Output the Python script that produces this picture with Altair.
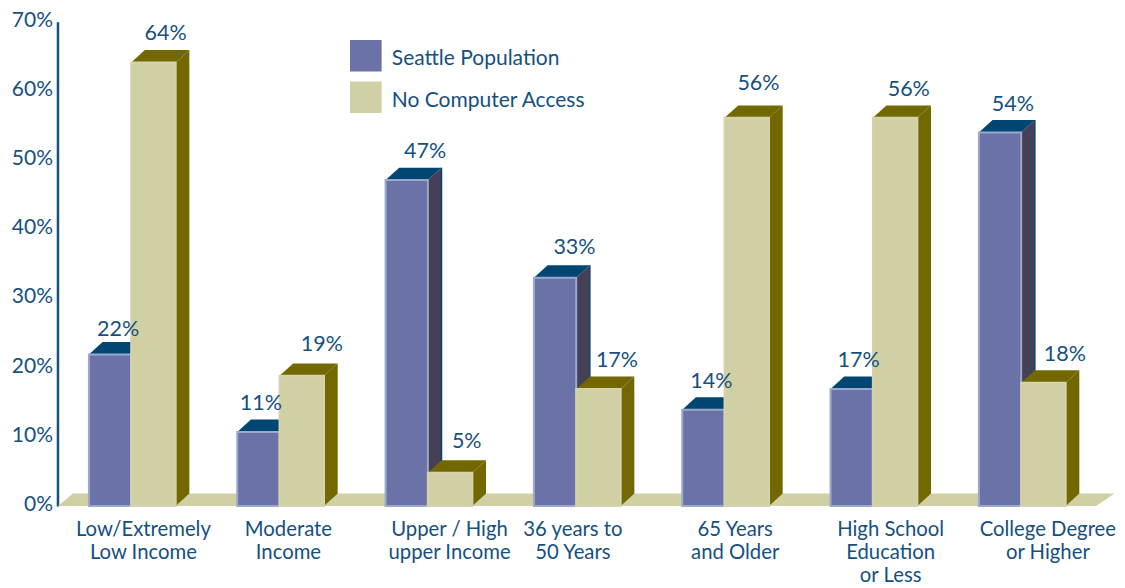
import altair as alt
import pandas as pd

# --- chart values -------------------------------------------------------
categories = ["Low/Extremely\nLow Income", "Moderate\nIncome", "Upper / High\nupper Income",
              "36 years to\n50 Years", "65 Years\nand Older",
              "High School\nEducation\nor Less", "College Degree\nor Higher"]
series_names = ["Seattle Population", "No Computer Access"]
seattle_labels = [22, 11, 47, 33, 14, 17, 54]
nocomp_labels = [64, 19, 5, 17, 56, 56, 18]
seattle_heights = [21.9, 10.7, 47.1, 33.0, 13.9, 16.9, 54.0]
nocomp_heights = [64.1, 18.8, 4.8, 16.9, 56.1, 56.1, 17.8]
y_ticks = [0, 10, 20, 30, 40, 50, 60, 70]

# --- styling / layout (group units on x, percent on y) -------------------
BLUE, BLUE_EDGE, BLUE_TOP, BLUE_SIDE = "#6a72a8", "#9aa9cc", "#004673", "#463f58"
TAN, TAN_EDGE, OLIVE = "#d1cfa4", "#d5d3ae", "#736800"
TEXT = "#15507f"
FONT = "Lato"
BLUE_W, TAN_W, DX, DY = 0.285, 0.30, 0.092, 1.8
seattle_label_nudge = [(0.054, 0.0), (0.017, 0.42), (0.124, 0.43), (0.131, 0.72), (0.054, 0.42), (0.047, 0.42), (0.087, 0.43)]
nocomp_label_nudge = [(0.002, -0.14), (0.055, 0.14), (0.032, 0.14), (0.045, -0.3), (-0.001, 0.6), (0.012, -0.29), (0.065, -0.3)]
category_x = [0.367, 0.345, 0.431, 0.263, 0.357, 0.405, 0.465]
floor_front = (-0.209, 6.79)
floor_back = (-0.108, 6.914)

x_scale = alt.Scale(domain=[-0.212, 6.931], nice=False, zero=False)
y_scale = alt.Scale(domain=[0, 70], nice=False, zero=False)
y_axis = alt.Axis(
    values=y_ticks, ticks=False, grid=False, labelExpr="datum.value + '%'",
    labelFont=FONT, labelFontSize=21, labelColor=TEXT, labelPadding=5, labelOffset=-1.5,
    domainColor=TEXT, domainWidth=2.5, title=None)
X = lambda f: alt.X(f, type="quantitative", scale=x_scale, axis=None)
Y = lambda f: alt.Y(f, type="quantitative", scale=y_scale, title=None, axis=y_axis)

bars = []
for i in range(len(categories)):
    bars.append(dict(g=i, series=series_names[0], l=i, r=i + BLUE_W, v=seattle_heights[i],
                     txt=f"{seattle_labels[i]}%", lx=i + BLUE_W / 2 + seattle_label_nudge[i][0],
                     ly=seattle_heights[i] + 3.6 + seattle_label_nudge[i][1]))
    bars.append(dict(g=i, series=series_names[1], l=i + BLUE_W, r=i + BLUE_W + TAN_W, v=nocomp_heights[i],
                     txt=f"{nocomp_labels[i]}%", lx=i + BLUE_W + TAN_W / 2 + 0.08 + nocomp_label_nudge[i][0],
                     ly=nocomp_heights[i] + 4.3 + nocomp_label_nudge[i][1]))
df = pd.DataFrame(bars)


def tops(series):
    rows = []
    for b in df[df.series == series].itertuples():
        rows.append(dict(g=b.g, y=b.v, a=b.l, c=b.r))
        rows.append(dict(g=b.g, y=b.v + DY, a=b.l + DX, c=b.r + DX))
    return pd.DataFrame(rows)


def sides(series):
    rows = []
    for b in df[df.series == series].itertuples():
        rows.append(dict(g=b.g, x=b.r, lo=0, hi=b.v))
        rows.append(dict(g=b.g, x=b.r + DX, lo=DY, hi=b.v + DY))
    return pd.DataFrame(rows)


def top_layer(series, color):
    return alt.Chart(tops(series)).mark_area(orient="horizontal", color=color).encode(
        y=Y("y"), x=X("a"), x2="c", detail="g:N")


def side_layer(series, color):
    return alt.Chart(sides(series)).mark_area(orient="vertical", color=color).encode(
        x=X("x"), y=Y("lo"), y2="hi", detail="g:N")


floor = alt.Chart(pd.DataFrame([
    dict(y=0, a=floor_front[0], c=floor_front[1]),
    dict(y=DY, a=floor_back[0], c=floor_back[1]),
])).mark_area(orient="horizontal", color=TAN).encode(y=Y("y"), x=X("a"), x2="c")

blue_df = df[df.series == series_names[0]]
blue_edge = alt.Chart(blue_df.assign(bx=blue_df.r + DX, lo=DY, hi=blue_df.v + DY)).mark_rule(
    color=BLUE_TOP, strokeWidth=1.5).encode(x=X("bx"), y=Y("lo"), y2="hi")

fronts = alt.Chart(df).mark_bar(strokeWidth=2).encode(
    x=X("l"), x2="r", y=Y("v"), y2=alt.Y2(datum=0),
    color=alt.Color("series:N", scale=alt.Scale(domain=series_names, range=[BLUE, TAN]),
                    legend=alt.Legend(
                        title=None, orient="none", legendX=292.5, legendY=21.5, padding=0,
                        symbolType="M-1,-1.22H1V0.78H-1Z", symbolSize=1000, symbolStrokeWidth=0,
                        labelFont=FONT, labelFontSize=21, labelColor=TEXT,
                        labelOffset=10, rowPadding=8.5, labelLimit=400)),
    stroke=alt.Stroke("series:N", scale=alt.Scale(domain=series_names, range=[BLUE_EDGE, TAN_EDGE]), legend=None),
    order=alt.Order("g:Q"))

value_text = alt.Chart(df).mark_text(font=FONT, fontSize=21.5, color=TEXT, align="center", baseline="middle").encode(
    x=X("lx"), y=Y("ly"), text="txt:N")

cat_df = pd.DataFrame({"x": [i + c for i, c in enumerate(category_x)], "label": categories})
cat_text = alt.Chart(cat_df).mark_text(font=FONT, fontSize=20.3, color=TEXT, align="center", baseline="top",
                                        lineBreak="\n", lineHeight=23).encode(
    x=X("x"), y=alt.value(499), text="label:N")

chart = alt.layer(
    floor,
    side_layer(series_names[0], BLUE_SIDE), blue_edge, top_layer(series_names[0], BLUE_TOP),
    side_layer(series_names[1], OLIVE), top_layer(series_names[1], OLIVE),
    fronts, value_text, cat_text,
).properties(
    width=1060, height=484.4,
    padding={"left": 49.5, "top": 13.6, "right": 0, "bottom": 79},
    autosize=alt.AutoSizeParams(type="none"),
).configure_view(stroke=None)

chart.save("out.html", embed_options={"renderer": "svg", "actions": False})
